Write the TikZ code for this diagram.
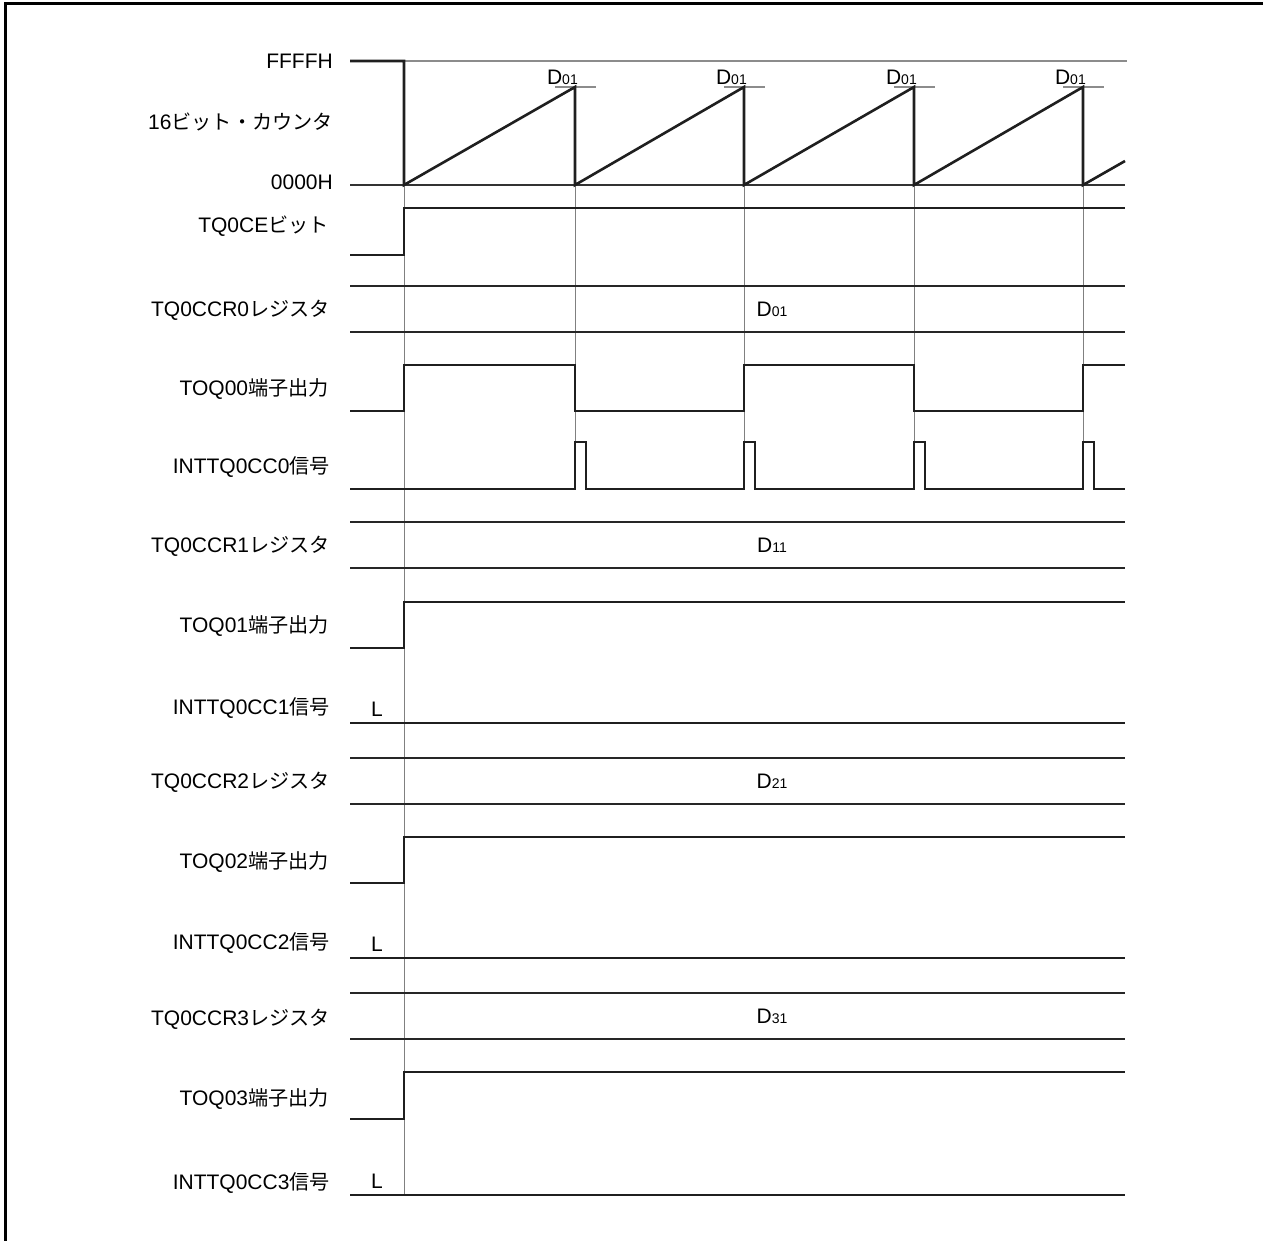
\documentclass[tikz,border=0pt]{standalone}
\usepackage{fontspec}
\setmainfont{Liberation Sans}
\newfontfamily\cjk[Scale=0.96]{Noto Sans CJK JP}
\newcommand\subdig[1]{{\fontsize{14}{14}\selectfont #1}}
\begin{document}
\begin{tikzpicture}[x=1pt,y=-1pt,
  sig/.style={line width=2.6pt,draw=black!88,line join=miter},
  reg/.style={line width=2.2pt,draw=black!85},
  greyline/.style={line width=1.3pt,draw=black!45},
  guide/.style={line width=1pt,draw=black!50},
  baseline0/.style={line width=1.4pt,draw=black!80},
  lbl/.style={anchor=east,inner sep=0pt,text height=15pt,text depth=0pt,font=\fontsize{21}{25}\selectfont},
  val/.style={inner sep=0pt,text height=15pt,text depth=0pt,font=\fontsize{21}{25}\selectfont}]
\useasboundingbox (0,0) rectangle (1263,1241);
\draw[line width=3pt] (5,1241) -- (5,4) -- (1263,4);

% guides
\draw[guide] (404,185) -- (404,1195);
\foreach \p in {575,744,914,1083} \draw[guide] (\p,87) -- (\p,442);

% labels
\node[lbl] (lffff) at (333,61) {FFFFH};
\node[lbl] (lcnt) at (333,122) {16{\cjk ビット・カウンタ}};
\node[lbl] (l0000) at (333,182) {0000H};
\node[lbl] (lce) at (329,225) {TQ0CE{\cjk ビット}};
\node[lbl] (lr0) at (330,309) {TQ0CCR0{\cjk レジスタ}};
\node[lbl] (lo0) at (329,388) {TOQ00{\cjk 端子出力}};
\node[lbl] (li0) at (330,466) {INTTQ0CC0{\cjk 信号}};
\node[lbl] (lr1) at (330,545) {TQ0CCR1{\cjk レジスタ}};
\node[lbl] (lo1) at (329,625) {TOQ01{\cjk 端子出力}};
\node[lbl] (li1) at (330,707) {INTTQ0CC1{\cjk 信号}};
\node[lbl] (lr2) at (330,781) {TQ0CCR2{\cjk レジスタ}};
\node[lbl] (lo2) at (329,861) {TOQ02{\cjk 端子出力}};
\node[lbl] (li2) at (330,942) {INTTQ0CC2{\cjk 信号}};
\node[lbl] (lr3) at (330,1018) {TQ0CCR3{\cjk レジスタ}};
\node[lbl] (lo3) at (329,1098) {TOQ03{\cjk 端子出力}};
\node[lbl] (li3) at (330,1182) {INTTQ0CC3{\cjk 信号}};

% counter
\draw[greyline] (404,61) -- (1127,61);
\draw[baseline0] (350,185) -- (1125,185);
\foreach \p/\n in {575/a,744/b,914/c,1083/d}{
  \draw[greyline] (\p-20,87) -- (\p+21,87);
  \node[val,anchor=south east] (dpk\n) at (\p+3,85) {D\subdig{01}};
}
\draw[sig] (350,61) -- (404,61) -- (404,185) -- (575,87) -- (575,185) -- (744,87) -- (744,185) -- (914,87) -- (914,185) -- (1083,87) -- (1083,185) -- (1125,161);

% TQ0CE
\draw[sig] (350,255) -- (404,255) -- (404,208) -- (1125,208);

% register rows
\foreach \t/\b/\n in {286/332/0,522/568/1,758/804/2,993/1039/3}{
  \draw[reg] (350,\t) -- (1125,\t);
  \draw[reg] (350,\b) -- (1125,\b);
  \node[val] (dr\n) at (772,{(\t+\b)/2}) {D\subdig{\n1}};
}

% TOQ00
\draw[sig] (350,411) -- (404,411) -- (404,365) -- (575,365) -- (575,411) -- (744,411) -- (744,365) -- (914,365) -- (914,411) -- (1083,411) -- (1083,365) -- (1125,365);

% INTTQ0CC0
\draw[sig] (350,489) -- (575,489) -- (575,442) -- (586,442) -- (586,489) -- (744,489) -- (744,442) -- (755,442) -- (755,489) -- (914,489) -- (914,442) -- (925,442) -- (925,489) -- (1083,489) -- (1083,442) -- (1094,442) -- (1094,489) -- (1125,489);

% TOQ0x outputs and INTTQ0CCx
\foreach \h/\l/\i/\n in {602/648/723/1,837/883/958/2,1072/1119/1195/3}{
  \draw[sig] (350,\l) -- (404,\l) -- (404,\h) -- (1125,\h);
  \draw[sig] (350,\i) -- (1125,\i);
  \node[val] (low\n) at (377,\i-14) {L};
}
\end{tikzpicture}
\end{document}
